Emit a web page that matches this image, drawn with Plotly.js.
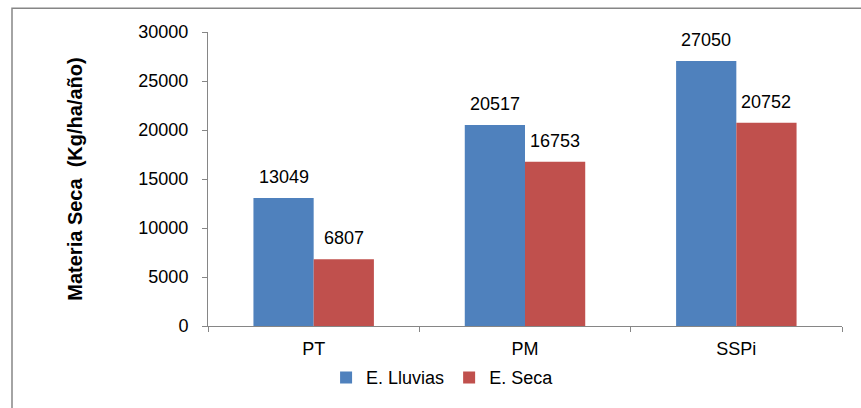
<!DOCTYPE html>
<html>
<head>
<meta charset="utf-8">
<script src="https://cdn.plot.ly/plotly-3.0.1.min.js"></script>
<style>
html,body{margin:0;padding:0;background:#fff;}
#chart{width:861px;height:408px;}
</style>
</head>
<body>
<div id="chart"></div>
<script>
const categories = ["PT", "PM", "SSPi"];
const lluvias = [13049, 20517, 27050];
const seca = [6807, 16753, 20752];
const seriesNames = ["E. Lluvias", "E. Seca"];
const yTicks = [0, 5000, 10000, 15000, 20000, 25000, 30000];

const fam = "Arial, 'Liberation Sans', sans-serif";
const font = {family: fam, size: 18, color: "#000"};

const traces = [
  {type: "bar", name: seriesNames[0], x: categories, y: lluvias,
   marker: {color: "#4F81BD"}, hoverinfo: "none"},
  {type: "bar", name: seriesNames[1], x: categories, y: seca,
   marker: {color: "#C0504D"}, hoverinfo: "none"}
];

const annotations = [];
[lluvias, seca].forEach((vals, si) => {
  vals.forEach((v, i) => {
    annotations.push({
      x: categories[i], y: v, xref: "x", yref: "y",
      xshift: si === 0 ? -30 : 30,
      yshift: 21, yanchor: "middle", xanchor: "center",
      text: String(v), showarrow: false, font: font
    });
  });
});

const layout = {
  width: 861, height: 408,
  margin: {l: 208, r: 19, t: 32, b: 80},
  paper_bgcolor: "#fff", plot_bgcolor: "#fff",
  font: font,
  barmode: "group",
  bargap: 0.43, bargroupgap: 0,
  showlegend: true,
  legend: {orientation: "h", x: 0.37, xanchor: "center", y: -0.176, yanchor: "middle",
           font: {family: fam, size: 18, color: "#000"}, itemwidth: 30, traceorder: "normal"},
  xaxis: {
    type: "category", showline: true, linecolor: "#868686", linewidth: 1,
    ticks: "outside", tickson: "boundaries", ticklen: 5, tickcolor: "#868686",
    ticklabelstandoff: 6,
    showgrid: false, zeroline: false, tickfont: font, fixedrange: true
  },
  yaxis: {
    range: [0, 30000], tickvals: yTicks, ticktext: yTicks.map(String),
    showline: true, linecolor: "#868686", linewidth: 1,
    ticks: "outside", ticklen: 5, tickcolor: "#868686",
    ticklabelstandoff: 10,
    showgrid: false, zeroline: false, tickfont: font,
    title: {text: "<b>Materia Seca  (Kg/ha/año)</b>", font: {family: fam, size: 20, color: "#000"}, standoff: 50},
    fixedrange: true
  },
  annotations: annotations,
  shapes: [{
    type: "rect", xref: "paper", yref: "paper",
    x0: (12 - 208) / 634, x1: 1.3, y0: -0.6, y1: (328 - 8) / 296,
    line: {color: "#868686", width: 1.5}, fillcolor: "rgba(0,0,0,0)", layer: "below"
  }]
};

Plotly.newPlot("chart", traces, layout, {displayModeBar: false, staticPlot: true});
</script>
</body>
</html>
